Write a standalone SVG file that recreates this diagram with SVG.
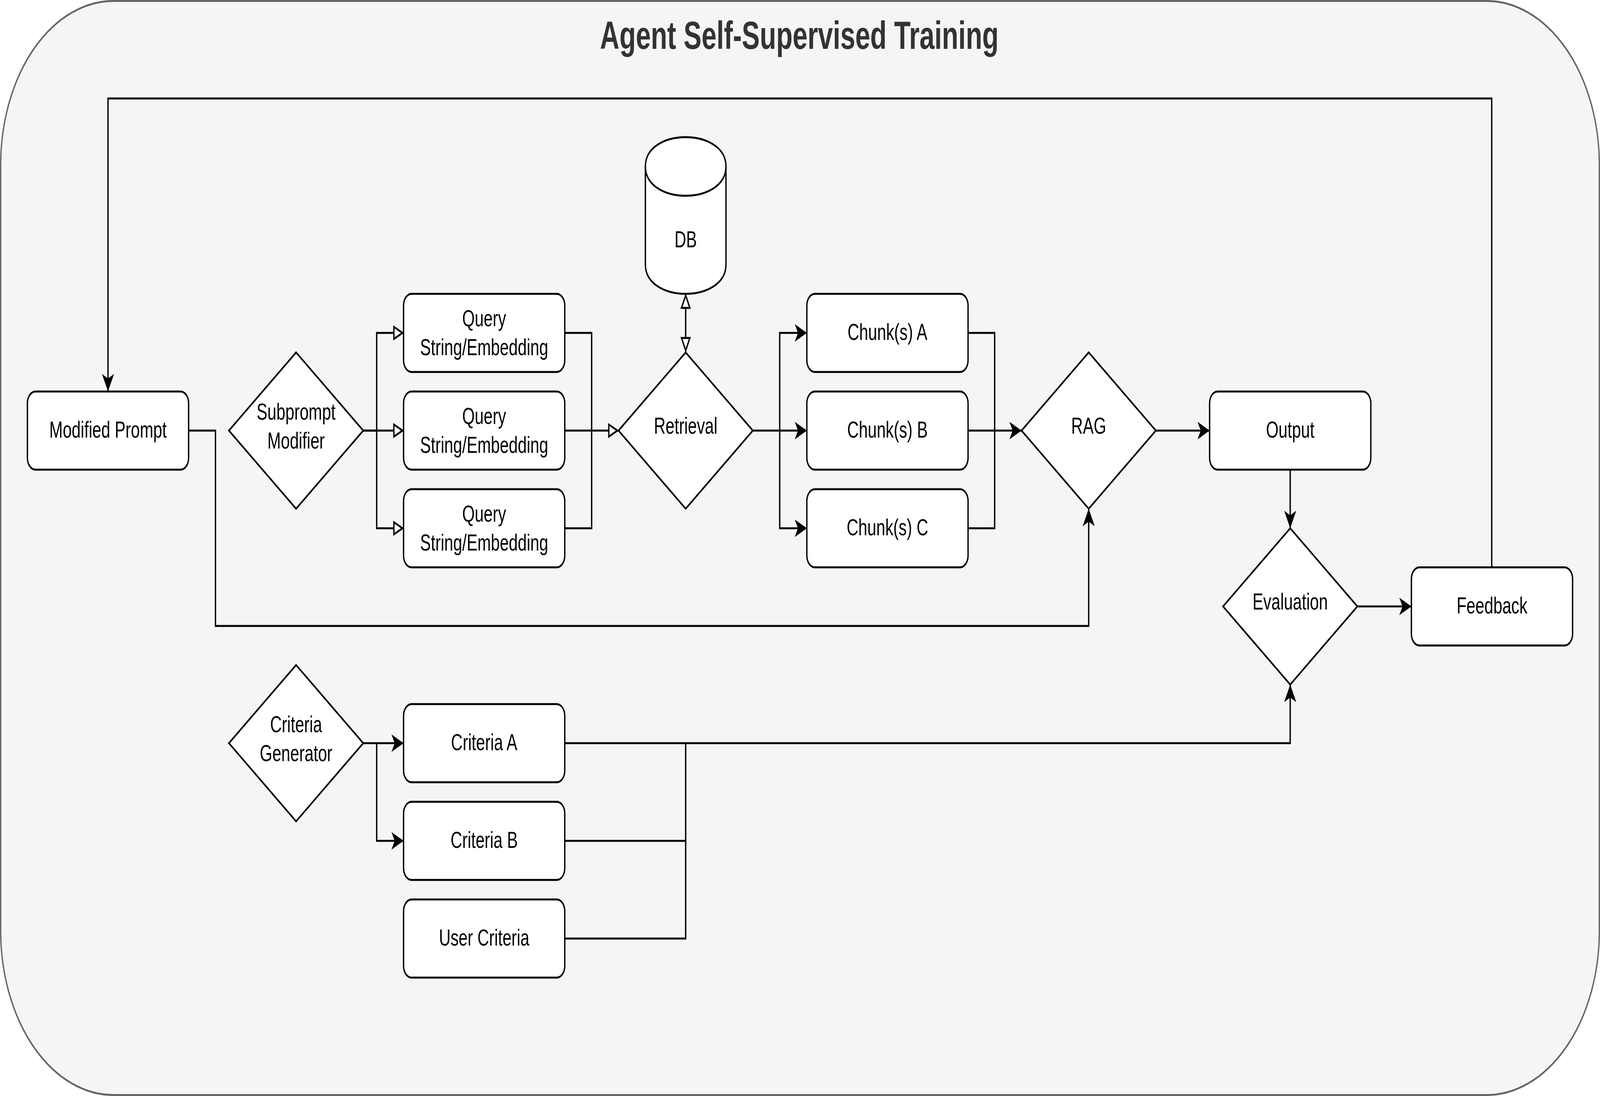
<svg xmlns="http://www.w3.org/2000/svg" width="5955" height="2805" viewBox="0 0 5955 2805" preserveAspectRatio="none">
<style>
svg{width:100vw;height:100vh;display:block}
.node{fill:#ffffff;stroke:#000000;stroke-width:5;stroke-linejoin:miter}
.lbl{font-family:"Liberation Sans",Arial,Helvetica,sans-serif;font-size:60px;fill:#000000;text-anchor:middle}
.edge{fill:none;stroke:#000000;stroke-width:5;stroke-linejoin:miter}
.arr{marker-end:url(#classic)}
.oarr{marker-end:url(#block)}
</style>
<defs>
<marker id="classic" markerUnits="userSpaceOnUse" markerWidth="60" markerHeight="60" viewBox="-50 -30 60 60" refX="0" refY="0" orient="auto" overflow="visible">
<path d="M0,0 L-45,-22.5 L-33,0 L-45,22.5 Z" fill="#000000"/>
</marker>
<marker id="block" markerUnits="userSpaceOnUse" markerWidth="60" markerHeight="60" viewBox="-50 -30 60 60" refX="0" refY="0" orient="auto-start-reverse" overflow="visible">
<path d="M-4,0 L-36,-15.5 L-36,15.5 Z" fill="#ffffff" stroke="#000000" stroke-width="5"/>
</marker>
</defs>
<g id="container">
<rect x="2.5" y="2.5" width="5950" height="2800" rx="420" ry="420" fill="#f5f5f5" stroke="#666666" stroke-width="5"/>
<text x="2975" y="125" font-family="Liberation Sans,Arial,Helvetica,sans-serif" font-size="100" font-weight="bold" fill="#333333" text-anchor="middle">Agent Self-Supervised Training</text>
</g>
<g id="connectors">
<path class="edge arr" d="M5552,1452 L5552,252 L402,252 L402,1002"/>
<path class="edge arr" d="M702,1102 L802,1102 L802,1602 L4052,1602 L4052,1302"/>
<path class="edge oarr" d="M1352,1102 L1402,1102 L1402,852 L1502,852"/>
<path class="edge oarr" d="M1352,1102 L1502,1102"/>
<path class="edge oarr" d="M1402,1102 L1402,1352 L1502,1352"/>
<path class="edge" d="M2102,852 L2202,852 L2202,1352 L2102,1352"/>
<path class="edge oarr" d="M2102,1102 L2302,1102"/>
<path class="edge oarr" d="M2552,752 L2552,901" marker-start="url(#block)"/>
<path class="edge arr" d="M2802,1102 L3003,1102"/>
<path class="edge arr" d="M2902,1102 L2902,852 L3003,852"/>
<path class="edge arr" d="M2902,1102 L2902,1352 L3003,1352"/>
<path class="edge" d="M3603,852 L3702,852 L3702,1352 L3603,1352"/>
<path class="edge arr" d="M3603,1102 L3802,1102"/>
<path class="edge arr" d="M4302,1102 L4502,1102"/>
<path class="edge arr" d="M4802,1202 L4802,1352"/>
<path class="edge arr" d="M5052,1552 L5253,1552"/>
<path class="edge arr" d="M1352,1902 L1502,1902"/>
<path class="edge arr" d="M1402,1902 L1402,2152 L1502,2152"/>
<path class="edge arr" d="M2102,1902 L4802,1902 L4802,1752"/>
<path class="edge" d="M2102,2152 L2552,2152 L2552,1902"/>
<path class="edge" d="M2102,2402 L2552,2402 L2552,2152"/>
</g>
<g id="modified-prompt">
<rect class="node" x="102" y="1002" width="600" height="200" rx="30" ry="30"/>
<text class="lbl" x="402" y="1120">Modified Prompt</text>
</g>
<g id="subprompt-modifier">
<polygon class="node" points="1102,902 1352,1102 1102,1302 852,1102"/>
<text class="lbl" x="1102" y="1074">Subprompt</text>
<text class="lbl" x="1102" y="1148">Modifier</text>
</g>
<g id="query-1">
<rect class="node" x="1502" y="752" width="600" height="200" rx="30" ry="30"/>
<text class="lbl" x="1802" y="835">Query</text>
<text class="lbl" x="1802" y="909">String/Embedding</text>
</g>
<g id="query-2">
<rect class="node" x="1502" y="1002" width="600" height="200" rx="30" ry="30"/>
<text class="lbl" x="1802" y="1085">Query</text>
<text class="lbl" x="1802" y="1159">String/Embedding</text>
</g>
<g id="query-3">
<rect class="node" x="1502" y="1252" width="600" height="200" rx="30" ry="30"/>
<text class="lbl" x="1802" y="1335">Query</text>
<text class="lbl" x="1802" y="1409">String/Embedding</text>
</g>
<g id="db">
<path class="node" d="M2402,426 C2402,326 2702,326 2702,426 L2702,677 C2702,777 2402,777 2402,677 Z"/>
<path class="edge" d="M2402,426 C2402,526 2702,526 2702,426"/>
<text class="lbl" x="2552" y="633">DB</text>
</g>
<g id="retrieval">
<polygon class="node" points="2552,902 2802,1102 2552,1302 2302,1102"/>
<text class="lbl" x="2552" y="1110">Retrieval</text>
</g>
<g id="chunk-a">
<rect class="node" x="3003" y="752" width="600" height="200" rx="30" ry="30"/>
<text class="lbl" x="3303" y="870">Chunk(s) A</text>
</g>
<g id="chunk-b">
<rect class="node" x="3003" y="1002" width="600" height="200" rx="30" ry="30"/>
<text class="lbl" x="3303" y="1120">Chunk(s) B</text>
</g>
<g id="chunk-c">
<rect class="node" x="3003" y="1252" width="600" height="200" rx="30" ry="30"/>
<text class="lbl" x="3303" y="1370">Chunk(s) C</text>
</g>
<g id="rag">
<polygon class="node" points="4052,902 4302,1102 4052,1302 3802,1102"/>
<text class="lbl" x="4052" y="1110">RAG</text>
</g>
<g id="output">
<rect class="node" x="4502" y="1002" width="600" height="200" rx="30" ry="30"/>
<text class="lbl" x="4802" y="1120">Output</text>
</g>
<g id="evaluation">
<polygon class="node" points="4802,1352 5052,1552 4802,1752 4552,1552"/>
<text class="lbl" x="4802" y="1560">Evaluation</text>
</g>
<g id="feedback">
<rect class="node" x="5253" y="1452" width="600" height="200" rx="30" ry="30"/>
<text class="lbl" x="5553" y="1570">Feedback</text>
</g>
<g id="criteria-generator">
<polygon class="node" points="1102,1702 1352,1902 1102,2102 852,1902"/>
<text class="lbl" x="1102" y="1874">Criteria</text>
<text class="lbl" x="1102" y="1948">Generator</text>
</g>
<g id="criteria-a">
<rect class="node" x="1502" y="1802" width="600" height="200" rx="30" ry="30"/>
<text class="lbl" x="1802" y="1920">Criteria A</text>
</g>
<g id="criteria-b">
<rect class="node" x="1502" y="2052" width="600" height="200" rx="30" ry="30"/>
<text class="lbl" x="1802" y="2170">Criteria B</text>
</g>
<g id="user-criteria">
<rect class="node" x="1502" y="2302" width="600" height="200" rx="30" ry="30"/>
<text class="lbl" x="1802" y="2420">User Criteria</text>
</g>
</svg>
